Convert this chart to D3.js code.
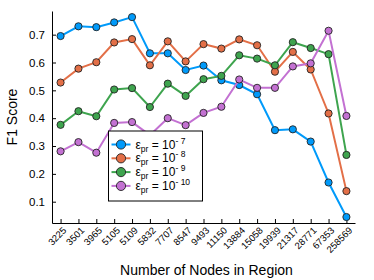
<!DOCTYPE html>
<html>
<head>
<meta charset="utf-8">
<script src="https://cdn.jsdelivr.net/npm/d3@7"></script>
<style>
  body { margin: 0; background: #fff; }
  svg { display: block; font-family: "Liberation Sans", Arial, Helvetica, sans-serif; }
</style>
</head>
<body>
<div id="chart"></div>
<script>
// region sizes (x categories)
const nodes = ["3225", "3501", "3965", "5105", "5109", "5832", "7707", "8547", "9493",
    "11150", "13884", "15058", "19939", "21317", "28771", "67353", "258569"];

// F1 score per tolerance
const eps7 = [0.695, 0.730, 0.727, 0.744, 0.763, 0.633, 0.633, 0.573, 0.589,
    0.536, 0.519, 0.486, 0.357, 0.360, 0.316, 0.169, 0.045];
const eps8 = [0.528, 0.578, 0.601, 0.672, 0.684, 0.590, 0.676, 0.604, 0.666,
    0.650, 0.683, 0.662, 0.567, 0.638, 0.575, 0.417, 0.138];
const eps9 = [0.376, 0.425, 0.407, 0.503, 0.508, 0.440, 0.524, 0.480, 0.540,
    0.552, 0.626, 0.614, 0.590, 0.673, 0.652, 0.630, 0.268];
const eps10 = [0.281, 0.314, 0.276, 0.383, 0.386, 0.339, 0.400, 0.375, 0.419,
    0.441, 0.539, 0.509, 0.509, 0.586, 0.597, 0.714, 0.408];

const exps = ["7", "8", "9", "10"];
const yTicks = [0.1, 0.2, 0.3, 0.4, 0.5, 0.6, 0.7];

const series = [
    { vals: eps7, color: "#009afa", exp: exps[0] },
    { vals: eps8, color: "#e36f47", exp: exps[1] },
    { vals: eps9, color: "#3ea44e", exp: exps[2] },
    { vals: eps10, color: "#c371d2", exp: exps[3] }
];

const width = 374;
const height = 280;
const marginLeft = 52;
const marginRight = 19;
const marginTop = 11;
const marginBottom = 57;

const svg = d3.select("#chart")
    .append("svg")
    .attr("width", width)
    .attr("height", height);

const x = d3.scaleLinear([0.52, nodes.length + 0.48], [marginLeft, width - marginRight]);
const y = d3.scaleLinear([0.0235, 0.785], [height - marginBottom, marginTop]);

// y axis (ticks point inward)
svg.append("g")
    .attr("transform", `translate(${marginLeft},0)`)
    .call(d3.axisLeft(y).tickValues(yTicks).tickFormat(d3.format(".1f")).tickSizeInner(-4).tickSizeOuter(0).tickPadding(7))
    .call(g => g.select(".domain").attr("stroke", "#000"))
    .call(g => g.selectAll("text").attr("font-size", 11.5).attr("fill", "#000").attr("font-family", null));

// x axis
svg.append("g")
    .attr("transform", `translate(0,${height - marginBottom})`)
    .call(d3.axisBottom(x).tickValues(d3.range(1, nodes.length + 1)).tickFormat(i => nodes[i - 1]).tickSizeInner(-4).tickSizeOuter(0))
    .call(g => g.select(".domain").attr("stroke", "#000"))
    .call(g => g.selectAll("text")
        .attr("font-size", 9.5)
        .attr("fill", "#000")
        .attr("font-family", null)
        .attr("text-anchor", "end")
        .attr("dy", null)
        .attr("y", 0)
        .attr("transform", "translate(6,8) rotate(-45)"));

svg.append("text")
    .attr("x", (marginLeft + width - marginRight) / 2 + 3)
    .attr("y", 275)
    .attr("text-anchor", "middle")
    .attr("font-size", 14)
    .text("Number of Nodes in Region");

svg.append("text")
    .attr("transform", `translate(17,${(marginTop + height - marginBottom) / 2}) rotate(-90)`)
    .attr("text-anchor", "middle")
    .attr("font-size", 14)
    .text("F1 Score");

const line = d3.line()
    .x((d, i) => x(i + 1))
    .y(d => y(d));

series.forEach(s => {
    svg.append("path")
        .attr("d", line(s.vals))
        .attr("fill", "none")
        .attr("stroke", s.color)
        .attr("stroke-width", 2);
    svg.append("g")
        .selectAll("circle")
        .data(s.vals)
        .join("circle")
        .attr("cx", (d, i) => x(i + 1))
        .attr("cy", d => y(d))
        .attr("r", 3.6)
        .attr("fill", s.color)
        .attr("stroke", "#222")
        .attr("stroke-width", 0.9);
});

// legend
const lg = svg.append("g").attr("transform", "translate(108.5,131)");
lg.append("rect")
    .attr("width", 94)
    .attr("height", 70)
    .attr("fill", "#fff")
    .attr("stroke", "#000")
    .attr("stroke-width", 1);

series.forEach((s, i) => {
    const row = lg.append("g").attr("transform", `translate(0,${13.5 + i * 13.8})`);
    row.append("line")
        .attr("x1", 3).attr("x2", 22)
        .attr("stroke", s.color)
        .attr("stroke-width", 2);
    row.append("circle")
        .attr("cx", 12.5)
        .attr("r", 4.6)
        .attr("fill", s.color)
        .attr("stroke", "#222")
        .attr("stroke-width", 0.9);
    const t = row.append("text")
        .attr("x", 27)
        .attr("y", 4)
        .attr("font-size", 12);
    t.append("tspan").text("ε");
    t.append("tspan").attr("font-size", 8.5).attr("dy", 3).text("pr");
    t.append("tspan").attr("dy", -3).text(" = 10");
    t.append("tspan").attr("font-size", 8.5).attr("dy", -5).text("- " + s.exp);
});
</script>
</body>
</html>
